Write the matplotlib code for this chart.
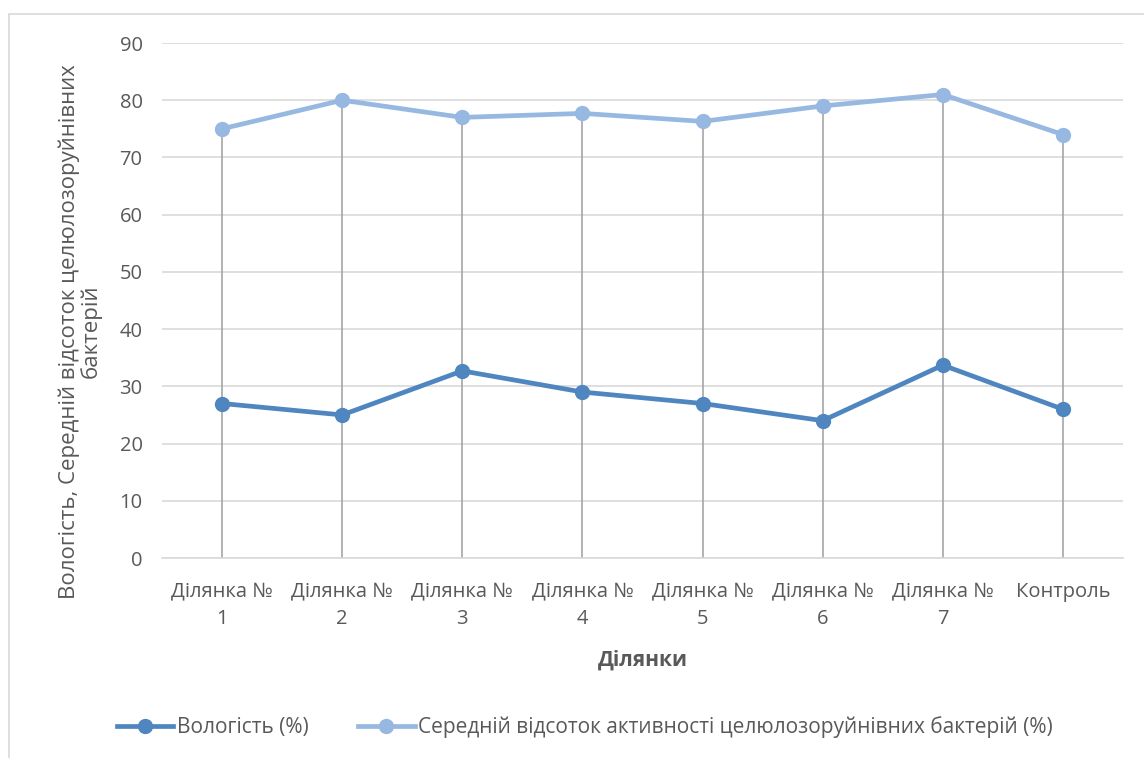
import matplotlib.pyplot as plt
from matplotlib.patches import Rectangle

plt.rcParams['font.family'] = ['Open Sans', 'DejaVu Sans']

# data
categories = ['Ділянка №\n1', 'Ділянка №\n2', 'Ділянка №\n3', 'Ділянка №\n4',
              'Ділянка №\n5', 'Ділянка №\n6', 'Ділянка №\n7', 'Контроль']
humidity = [27, 25, 32.7, 29, 27, 24, 33.7, 26]
activity = [75, 80, 77, 77.7, 76.3, 79, 81, 74]

dark_blue = '#4f86c0'
light_blue = '#97b9e1'
text_grey = '#595959'

fig = plt.figure(figsize=(11.44, 7.58), dpi=100)
ax = fig.add_axes([162 / 1144, 1 - 558 / 758, (1123 - 162) / 1144, (558 - 43) / 758])

# outer chart border
fig.patches.append(Rectangle((9 / 1144, -0.05), 1.1, 1 - 14 / 758 + 0.05,
                             transform=fig.transFigure, fill=False,
                             edgecolor='#d9d9d9', linewidth=1.2))

x = list(range(len(categories)))

# drop lines from the top series down to the axis
ax.vlines(x, 0, activity, color='#a5a5a5', linewidth=1.2, zorder=2)

ax.plot(x, humidity, color=dark_blue, linewidth=3.4, marker='o', markersize=10,
        label='Вологість (%)', zorder=3)
ax.plot(x, activity, color=light_blue, linewidth=3.4, marker='o', markersize=10,
        label='Середній відсоток активності целюлозоруйнівних бактерій (%)', zorder=3)

ax.set_xlim(-0.5, len(categories) - 0.5)
ax.set_ylim(0, 90)
ax.set_yticks(range(0, 91, 10))
ax.yaxis.grid(True, color='#d9d9d9', linewidth=1.2)
ax.set_axisbelow(True)
for side in ['left', 'right', 'top']:
    ax.spines[side].set_visible(False)
ax.spines['bottom'].set_color('#d9d9d9')
ax.spines['bottom'].set_linewidth(1.2)
ax.tick_params(length=0, labelsize=14.5, colors=text_grey, pad=14)
ax.tick_params(axis='x', pad=17)
ax.set_xticks(x)
ax.set_xticklabels(categories, linespacing=1.5)

ax.set_xlabel('Ділянки', fontsize=15, fontweight='bold', color=text_grey, labelpad=15)
ax.set_ylabel('Вологість, Середній відсоток целюлозоруйнівних\nбактерій',
              fontsize=16, color=text_grey, linespacing=1.0)
ax.yaxis.set_label_coords(-60 / 961, 0.44)

ax.legend(loc='center', bbox_to_anchor=(0.44, -0.328), ncol=2, frameon=False,
          fontsize=15, labelcolor=text_grey, handlelength=2.7, handletextpad=0.15,
          columnspacing=2.4)

fig.savefig('out.png', dpi=100)
